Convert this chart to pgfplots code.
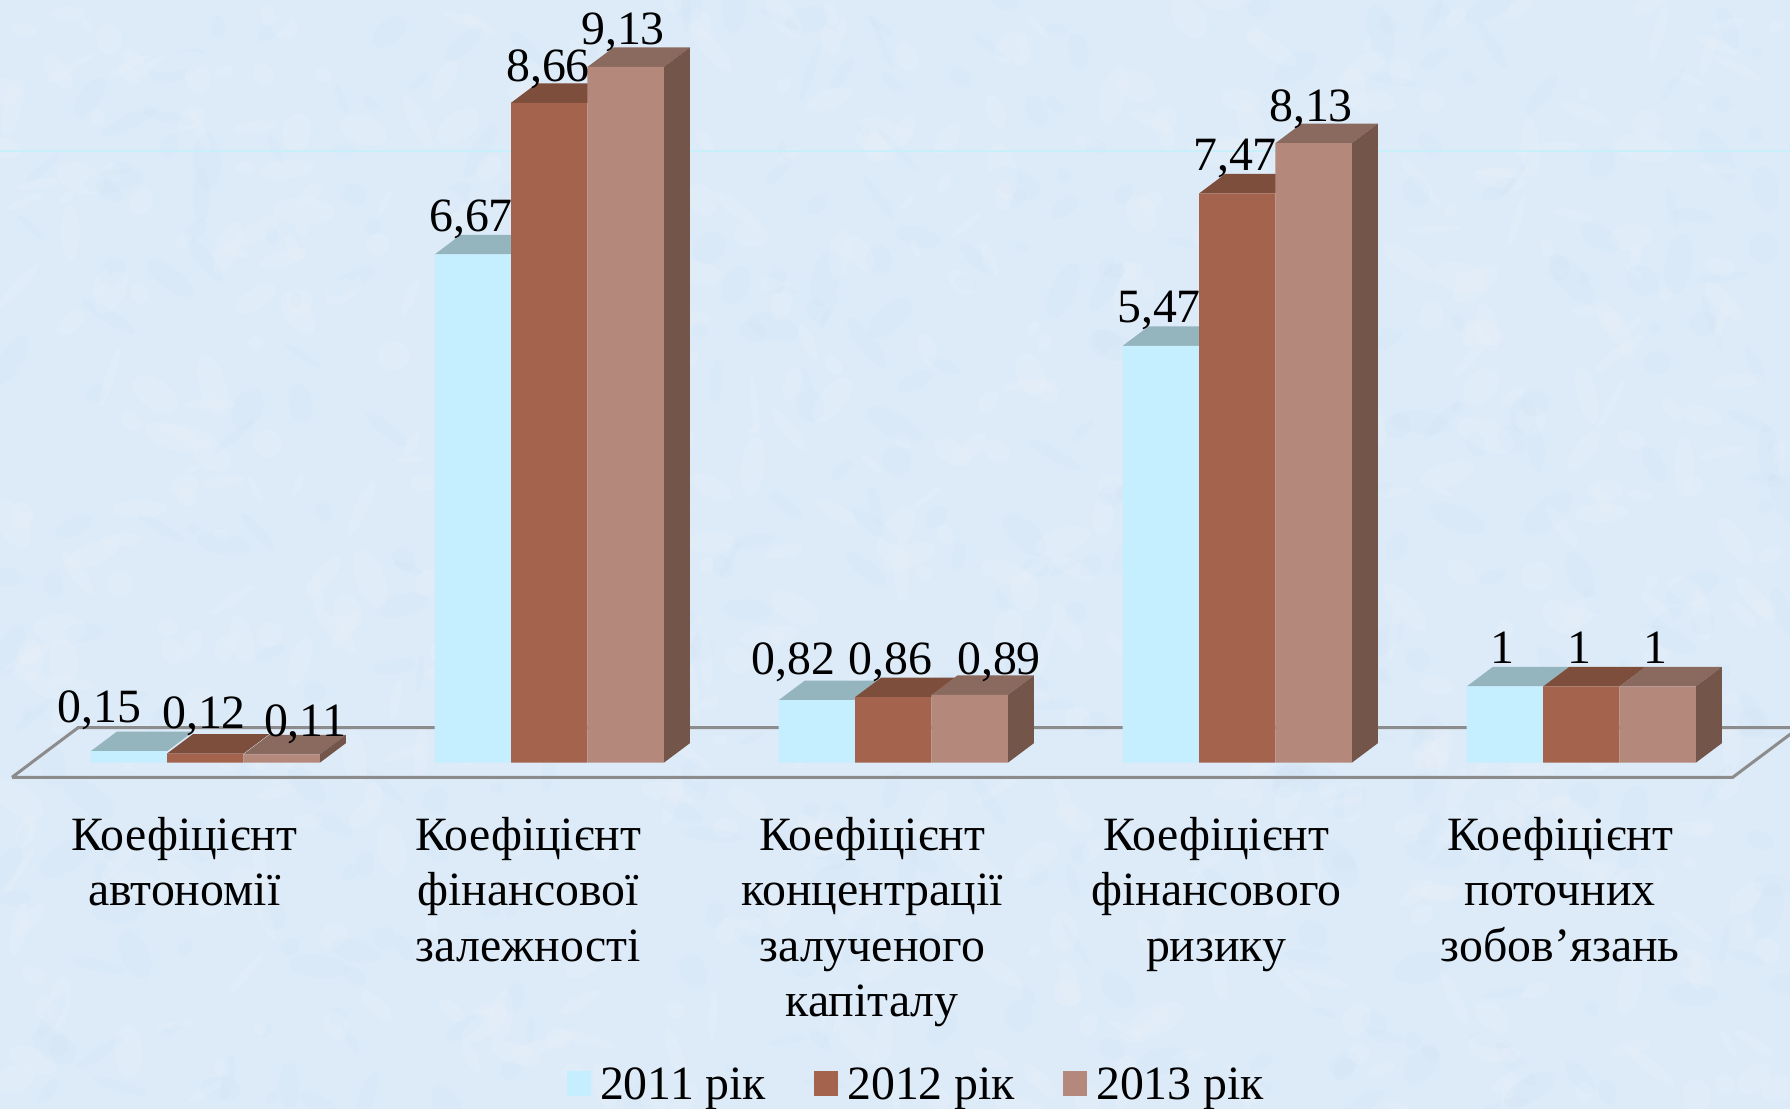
\documentclass[border=0pt]{standalone}
\usepackage{fontspec}
\setmainfont{Liberation Serif}
\usepackage{pgfplots}
\pgfplotsset{compat=1.18}
\newcommand\lbl{\fontsize{13.6}{15.76}\selectfont}
\definecolor{bgc}{HTML}{DDEBF8}
\definecolor{blobb}{HTML}{BCD4EF}
\definecolor{fa}{HTML}{C5EFFF}\definecolor{ta}{HTML}{95B5BE}
\definecolor{fb}{HTML}{A3634C}\definecolor{tb}{HTML}{7D4E3B}
\definecolor{fc}{HTML}{B4887B}\definecolor{tc}{HTML}{8A6A5F}
\definecolor{sc}{HTML}{735649}
\definecolor{floorc}{HTML}{8C8C8C}
\definecolor{gridc}{HTML}{C8F0FA}
\tikzset{vlabel/.style={font=\lbl,anchor=base,inner sep=0pt,text=black}}
\pgfplotsset{
  square legend/.style={legend image code/.code={
    \fill[##1] (0mm,-0.95mm) rectangle (2.4mm,1.55mm);
    \path (3.3mm,0);}},
}
\begin{document}
\begin{tikzpicture}
\useasboundingbox (0,0) rectangle (179mm,110.9mm);
% paper texture of the slide background (decoration only)
\fill[bgc] (0,0) rectangle (179mm,110.9mm);
\begin{scope}
\clip (0,0) rectangle (179mm,110.9mm);
\pgfmathsetseed{4711}
\foreach \i in {1,...,1100}{
  \pgfmathsetmacro\bx{rnd*179}
  \pgfmathsetmacro\by{rnd*110.9}
  \pgfmathsetmacro\ra{0.5+rnd*2.6}
  \pgfmathsetmacro\rb{0.3+rnd*1.2}
  \pgfmathsetmacro\an{rnd*180}
  \pgfmathsetmacro\pick{rnd}
  \ifdim\pick pt<0.6pt
    \fill[white,opacity=0.09,rotate around={\an:(\bx mm,\by mm)}] (\bx mm,\by mm) ellipse ({\ra mm} and {\rb mm});
  \else
    \fill[blobb,opacity=0.07,rotate around={\an:(\bx mm,\by mm)}] (\bx mm,\by mm) ellipse ({\ra mm} and {\rb mm});
  \fi
}
\end{scope}
\begin{axis}[
  at={(0,0)},anchor=south west,
  scale only axis,width=179mm,height=110.9mm,
  xmin=-0.5967,xmax=4.6069,ymin=-4.545,ymax=10.009,
  axis line style={draw=none},
  major tick length=0pt,
  ytick=\empty,
  xtick={0,1,2,3,4},
  xticklabels={{Коефіцієнт\\автономії},{Коефіцієнт\\фінансової\\залежності},{Коефіцієнт\\концентрації\\залученого\\капіталу},{Коефіцієнт\\фінансового\\ризику},{Коефіцієнт\\поточних\\зобов’язань}},
  x tick label style={font=\lbl,align=center,anchor=north,inner sep=0pt,xshift=-2.1mm,yshift=29.25mm},
  legend columns=3,
  legend cell align=left,
  legend style={at={(0.5115,0.0205)},anchor=center,draw=none,fill=none,inner sep=0pt,outer sep=0pt,font=\lbl,
    /tikz/every even column/.append style={column sep=4.8mm},
    nodes={inner sep=0pt,outer sep=0pt}},
  square legend,
]
% back-wall gridline and floor
\addplot[gridc,line width=0.15mm,forget plot] coordinates {(-0.5967,8.03) (4.6069,8.03)};
\addplot[floorc,line width=0.3mm,forget plot] coordinates {(-0.5618,-0.1916) (4.4403,-0.1916) (4.6331,0.4593) (-0.3699,0.4593) (-0.5618,-0.1916)};
% top faces 2011
\addplot[fill=ta,draw=none,forget plot] coordinates {(-0.33315,0.15) (-0.11105,0.15) (-0.03545,0.4059) (-0.25755,0.4059)};
\addplot[fill=ta,draw=none,forget plot] coordinates {(0.66685,6.67) (0.88895,6.67) (0.96455,6.9259) (0.74245,6.9259)};
\addplot[fill=ta,draw=none,forget plot] coordinates {(1.66685,0.82) (1.88895,0.82) (1.96455,1.0759) (1.74245,1.0759)};
\addplot[fill=ta,draw=none,forget plot] coordinates {(2.66685,5.47) (2.88895,5.47) (2.96455,5.7259) (2.74245,5.7259)};
\addplot[fill=ta,draw=none,forget plot] coordinates {(3.66685,1) (3.88895,1) (3.96455,1.2559) (3.74245,1.2559)};
% top faces 2012
\addplot[fill=tb,draw=none,forget plot] coordinates {(-0.11105,0.12) (0.11105,0.12) (0.18665,0.3759) (-0.03545,0.3759)};
\addplot[fill=tb,draw=none,forget plot] coordinates {(0.88895,8.66) (1.11105,8.66) (1.18665,8.9159) (0.96455,8.9159)};
\addplot[fill=tb,draw=none,forget plot] coordinates {(1.88895,0.86) (2.11105,0.86) (2.18665,1.1159) (1.96455,1.1159)};
\addplot[fill=tb,draw=none,forget plot] coordinates {(2.88895,7.47) (3.11105,7.47) (3.18665,7.7259) (2.96455,7.7259)};
\addplot[fill=tb,draw=none,forget plot] coordinates {(3.88895,1) (4.11105,1) (4.18665,1.2559) (3.96455,1.2559)};
% top faces 2013
\addplot[fill=tc,draw=none,forget plot] coordinates {(0.11105,0.11) (0.33315,0.11) (0.40875,0.3659) (0.18665,0.3659)};
\addplot[fill=tc,draw=none,forget plot] coordinates {(1.11105,9.13) (1.33315,9.13) (1.40875,9.3859) (1.18665,9.3859)};
\addplot[fill=tc,draw=none,forget plot] coordinates {(2.11105,0.89) (2.33315,0.89) (2.40875,1.1459) (2.18665,1.1459)};
\addplot[fill=tc,draw=none,forget plot] coordinates {(3.11105,8.13) (3.33315,8.13) (3.40875,8.3859) (3.18665,8.3859)};
\addplot[fill=tc,draw=none,forget plot] coordinates {(4.11105,1) (4.33315,1) (4.40875,1.2559) (4.18665,1.2559)};
% side faces 2013
\addplot[fill=sc,draw=none,forget plot] coordinates {(0.33315,0) (0.40875,0.2559) (0.40875,0.3659) (0.33315,0.11)};
\addplot[fill=sc,draw=none,forget plot] coordinates {(1.33315,0) (1.40875,0.2559) (1.40875,9.3859) (1.33315,9.13)};
\addplot[fill=sc,draw=none,forget plot] coordinates {(2.33315,0) (2.40875,0.2559) (2.40875,1.1459) (2.33315,0.89)};
\addplot[fill=sc,draw=none,forget plot] coordinates {(3.33315,0) (3.40875,0.2559) (3.40875,8.3859) (3.33315,8.13)};
\addplot[fill=sc,draw=none,forget plot] coordinates {(4.33315,0) (4.40875,0.2559) (4.40875,1.2559) (4.33315,1)};
% front faces
\addplot[ybar,bar width=0.2221,bar shift=-0.2221,fill=fa,draw=none] coordinates {(0,0.15) (1,6.67) (2,0.82) (3,5.47) (4,1)};
\addplot[ybar,bar width=0.2221,bar shift=0,fill=fb,draw=none] coordinates {(0,0.12) (1,8.66) (2,0.86) (3,7.47) (4,1)};
\addplot[ybar,bar width=0.2221,bar shift=0.2221,fill=fc,draw=none] coordinates {(0,0.11) (1,9.13) (2,0.89) (3,8.13) (4,1)};
\legend{2011 рік,2012 рік,2013 рік}
% value labels
\node[vlabel] at (axis cs:-0.3068,0.525) {0,15};
\node[vlabel] at (axis cs:-0.0036,0.445) {0,12};
\node[vlabel] at (axis cs:0.290,0.350) {0,11};
\node[vlabel] at (axis cs:0.7725,6.969) {6,67};
\node[vlabel] at (axis cs:0.9964,8.937) {8,66};
\node[vlabel] at (axis cs:1.2144,9.419) {9,13};
\node[vlabel] at (axis cs:1.7100,1.151) {0,82};
\node[vlabel] at (axis cs:1.9920,1.151) {0,86};
\node[vlabel] at (axis cs:2.3074,1.151) {0,89};
\node[vlabel] at (axis cs:2.7725,5.770) {5,47};
\node[vlabel] at (axis cs:2.9935,7.765) {7,47};
\node[vlabel] at (axis cs:3.2144,8.408) {8,13};
\node[vlabel] at (axis cs:3.7697,1.308) {1};
\node[vlabel] at (axis cs:3.9936,1.308) {1};
\node[vlabel] at (axis cs:4.2145,1.308) {1};
\end{axis}
\end{tikzpicture}
\end{document}
